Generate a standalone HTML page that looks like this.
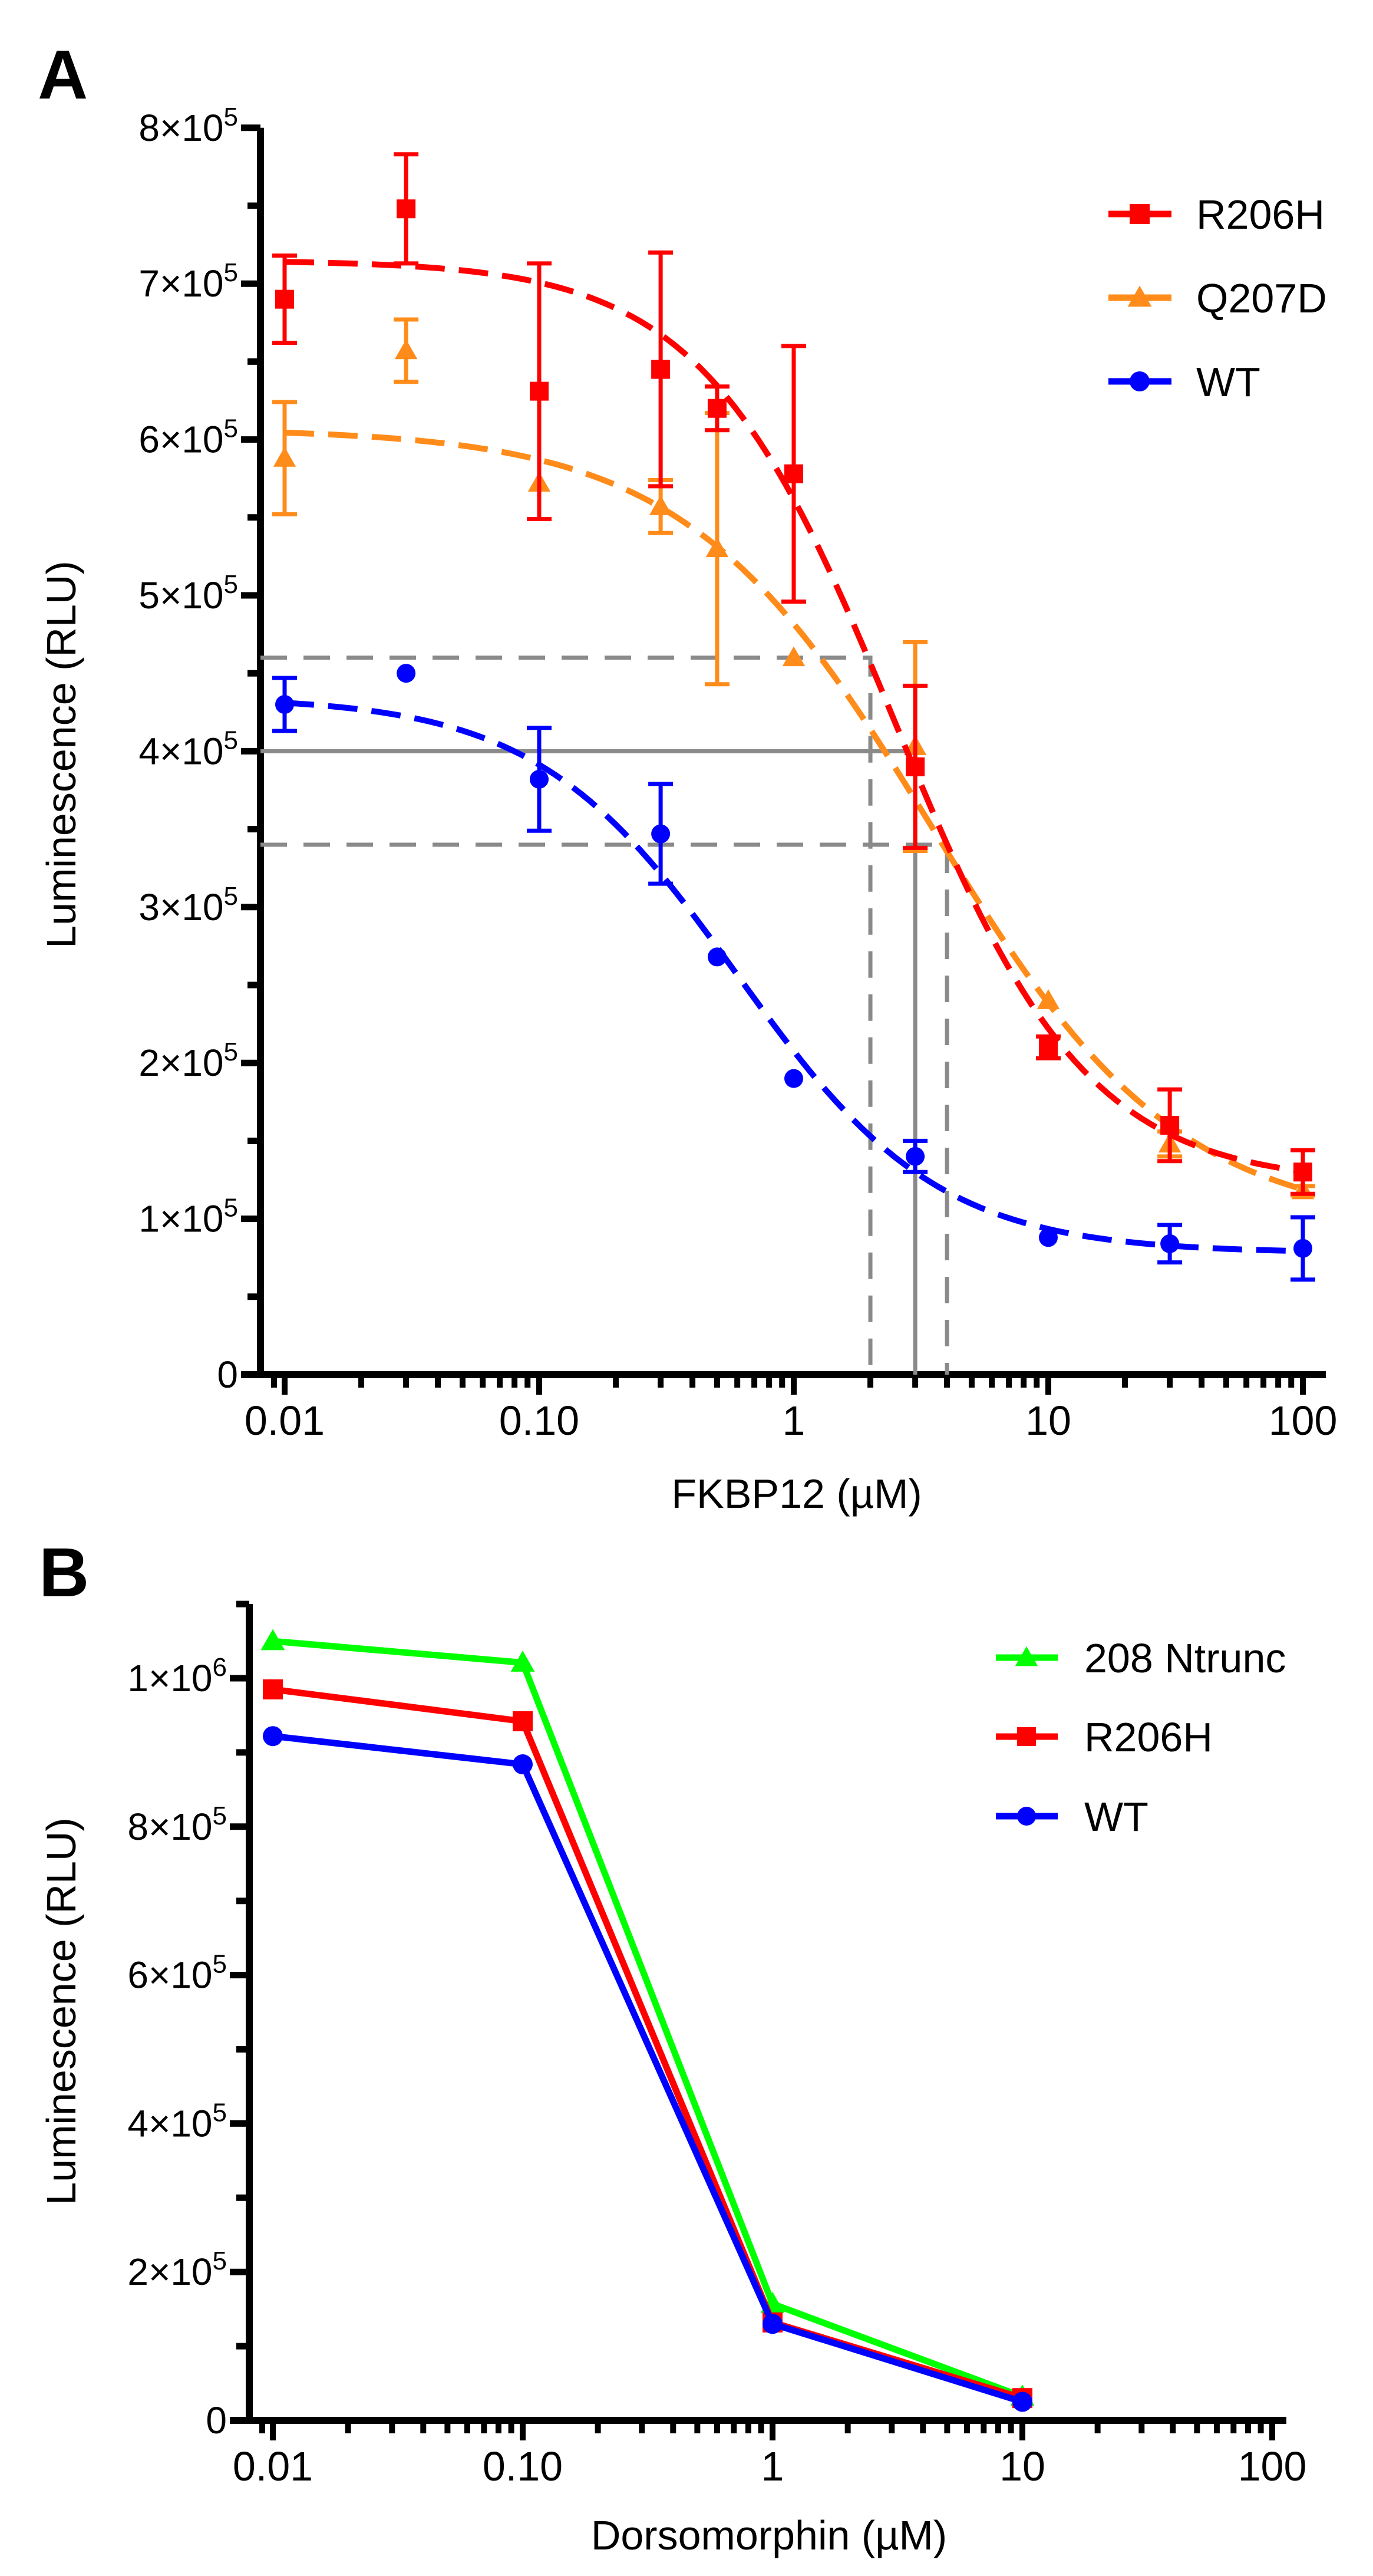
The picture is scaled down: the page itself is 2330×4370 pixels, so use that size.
<!DOCTYPE html>
<html><head><meta charset="utf-8"><style>
html,body{margin:0;padding:0;background:#fff;}
svg{display:block;font-family:"Liberation Sans",Arial,sans-serif;}
</style></head><body>
<svg id="fig" width="2330" height="4370" viewBox="0 0 2330 4370" xmlns="http://www.w3.org/2000/svg">
<text x="64" y="167" font-size="118" font-weight="bold">A</text>
<text x="66" y="2708" font-size="118" font-weight="bold">B</text>
<g id="pa"></g>
<g id="pb"></g>
</svg>
<script>
// ---------- Panel A data ----------
const aX = [0.01,0.03,0.1,0.3,0.5,1,3,10,30,100];
const aR206H = [6.9,7.48,6.31,6.45,6.2,5.78,3.9,2.1,1.6,1.3];
const aR206HErr = [0.28,0.35,0.82,0.75,0.14,0.82,0.52,0.07,0.23,0.14];
const aQ207D = [5.88,6.57,5.72,5.57,5.3,4.6,4.03,2.4,1.48,1.18];
const aQ207DErr = [0.36,0.2,0,0.17,0.87,0,0.67,0,0.08,0.03];
const aWT = [4.3,4.5,3.82,3.47,2.68,1.9,1.4,0.88,0.84,0.81];
const aWTErr = [0.17,0,0.33,0.32,0,0,0.1,0,0.12,0.2];
// 4PL fit params: top, bottom, ec50, hill
const fitR206H = [7.15,1.22,2.5,1.15];
const fitQ207D = [6.07,0.95,3.5,0.9];
const fitWT = [4.35,0.78,0.6,1.1];
const aYTicks = [0,1,2,3,4,5,6,7,8];
const aXTicks = [0.01,0.1,1,10,100];
const aXTickLabels = ["0.01","0.10","1","10","100"];
const guideSolidY = 4, guideSolidX = 3;
const guideDashHi = [2,4.6], guideDashLo = [4,3.4];

// ---------- Panel B data ----------
const bX = [0.01,0.1,1,10];
const bNtrunc = [10.5,10.21,1.57,0.32];
const bR206H = [9.85,9.42,1.32,0.3];
const bWT = [9.22,8.84,1.3,0.25];
const bYTicks = [0,2,4,6,8,10];
const bXTicks = [0.01,0.1,1,10,100];
const bXTickLabels = ["0.01","0.10","1","10","100"];

const NS="http://www.w3.org/2000/svg";
function mk(parent,tag,attrs){const e=document.createElementNS(NS,tag);for(const k in attrs)e.setAttribute(k,attrs[k]);parent.appendChild(e);return e;}

const A = {x0:483, dec:432, y0:2332, unit:264.4};
const ax = v => A.x0 + Math.log10(v/0.01)*A.dec;
const ay = v => A.y0 - v*A.unit;
const B = {x0:463, dec:424, y0:4106, unit:125.9};
const bx = v => B.x0 + Math.log10(v/0.01)*B.dec;
const by = v => B.y0 - v*B.unit;

function marker(g,shape,x,y,color,s){
  let e;
  if(shape==='sq'){e=mk(g,'rect',{x:x-s/2,y:y-s/2,width:s,height:s,fill:color});}
  else if(shape==='tri'){e=mk(g,'polygon',{points:`${x},${y-s*0.6} ${x-s*0.6},${y+s*0.45} ${x+s*0.6},${y+s*0.45}`,fill:color});}
  else {e=mk(g,'circle',{cx:x,cy:y,r:s/2,fill:color});}
  return e;
}

function axes(g,xf,yf,cfg){
  const ya=mk(g,'line',{x1:cfg.axX,y1:yf(cfg.yMax),x2:cfg.axX,y2:cfg.axY+6,stroke:'#000','stroke-width':12});
  
  
  const xa=mk(g,'line',{x1:cfg.axX-33,y1:cfg.axY,x2:cfg.xEnd,y2:cfg.axY,stroke:'#000','stroke-width':12});
  
  
  for(let v=0; v<=cfg.yMax+1e-9; v+=cfg.minorStep){
    const major = cfg.yTicks.some(t=>Math.abs(t-v)<1e-6);
    mk(g,'line',{x1:cfg.axX-(major?33:22),y1:yf(v),x2:cfg.axX,y2:yf(v),stroke:'#000','stroke-width':11});
  }
  cfg.yTicks.forEach(t=>{
    const tx=mk(g,'text',{x:cfg.axX-38,y:yf(t)+22,'font-size':64,'text-anchor':'end'});
    
    
    if(t===0){tx.textContent='0';}
    else{
      const exp = t>=10?6:5; const m = t>=10?t/10:t;
      const s1=mk(tx,'tspan',{}); s1.textContent=m+'×10';
      const s2=mk(tx,'tspan',{dy:-26,'font-size':44}); s2.textContent=String(exp);
    }
  });
  for(let d=-2; d<2; d++){
    for(let k=1;k<=10;k++){
      const v=k*Math.pow(10,d);
      const major=(k===1||k===10);
      const x=xf(v);
      mk(g,'line',{x1:x,y1:cfg.axY,x2:x,y2:cfg.axY+(major?34:22),stroke:'#000','stroke-width':10});
    }
  }
  mk(g,'line',{x1:xf(0.01)-18,y1:cfg.axY,x2:xf(0.01)-18,y2:cfg.axY+22,stroke:'#000','stroke-width':10});
  cfg.xTicks.forEach((t,i)=>{
    const tx=mk(g,'text',{x:xf(t),y:cfg.axY+102,'font-size':70,'text-anchor':'middle'});
    
    
    tx.textContent=cfg.xTickLabels[i];
  });
}

const pa=document.getElementById('pa');
axes(pa,ax,ay,{axX:442,axY:2332,yMax:8,minorStep:0.5,yTicks:aYTicks,xEnd:2250,xTicks:aXTicks,xTickLabels:aXTickLabels});
const gray='#8a8a8a';
let gl;
gl=mk(pa,'polyline',{points:`442,${ay(guideSolidY)} ${ax(guideSolidX)},${ay(guideSolidY)} ${ax(guideSolidX)},${A.y0}`,fill:'none',stroke:gray,'stroke-width':7});


gl=mk(pa,'polyline',{points:`442,${ay(guideDashHi[1])} ${ax(guideDashHi[0])},${ay(guideDashHi[1])} ${ax(guideDashHi[0])},${A.y0}`,fill:'none',stroke:gray,'stroke-width':7,'stroke-dasharray':'45 28'});


gl=mk(pa,'polyline',{points:`442,${ay(guideDashLo[1])} ${ax(guideDashLo[0])},${ay(guideDashLo[1])} ${ax(guideDashLo[0])},${A.y0}`,fill:'none',stroke:gray,'stroke-width':7,'stroke-dasharray':'45 28'});



function fit4(p,x){return p[1]+(p[0]-p[1])/(1+Math.pow(x/p[2],p[3]));}
const seriesA=[
 {name:'wt',ys:aWT,err:aWTErr,fit:fitWT,color:'#0000ff',shape:'circ'},
 {name:'q207d',ys:aQ207D,err:aQ207DErr,fit:fitQ207D,color:'#ff8c1a',shape:'tri'},
 {name:'r206h',ys:aR206H,err:aR206HErr,fit:fitR206H,color:'#ff0000',shape:'sq'}
];
seriesA.forEach(s=>{
  const g=mk(pa,'g',{});
  
  
  let pts=[];
  for(let i=0;i<=120;i++){const lx=-2+4*i/120;const x=Math.pow(10,lx);pts.push(ax(x).toFixed(1)+','+ay(fit4(s.fit,x)).toFixed(1));}
  const c=mk(g,'polyline',{points:pts.join(' '),fill:'none',stroke:s.color,'stroke-width':10,'stroke-dasharray':'50 24'});
  
  
  aX.forEach((x,i)=>{
    const X=ax(x),Y=ay(s.ys[i]);
    if(s.err[i]>0){
      const e1=ay(s.ys[i]+s.err[i]),e2=ay(s.ys[i]-s.err[i]);
      const eb=mk(g,'path',{d:`M${X},${e1}V${e2}M${X-21},${e1}H${X+21}M${X-21},${e2}H${X+21}`,stroke:s.color,'stroke-width':7,fill:'none'});
      
      
    }
    const m=marker(g,s.shape,X,Y,s.color,32);
    
    
  });
});
[['R206H','#ff0000','sq',363],['Q207D','#ff8c1a','tri',505],['WT','#0000ff','circ',647]].forEach(l=>{
  const g=mk(pa,'g',{});
  
  
  mk(g,'line',{x1:1881,y1:l[3],x2:1988,y2:l[3],stroke:l[1],'stroke-width':11});
  marker(g,l[2],1934,l[3],l[1],34);
  const t=mk(g,'text',{x:2030,y:l[3]+25,'font-size':70});t.textContent=l[0];
});
let t;
t=mk(pa,'text',{x:1352,y:2558,'font-size':70,'text-anchor':'middle'});t.textContent='FKBP12 (µM)';


t=mk(pa,'text',{x:0,y:0,'font-size':70,'text-anchor':'middle',transform:'translate(128,1280) rotate(-90)'});t.textContent='Luminescence (RLU)';



const pb=document.getElementById('pb');
axes(pb,bx,by,{axX:423,axY:4106,yMax:11,minorStep:1,yTicks:bYTicks,xEnd:2183,xTicks:bXTicks,xTickLabels:bXTickLabels});
const seriesB=[
 {name:'ntrunc',ys:bNtrunc,color:'#00ff00',shape:'tri'},
 {name:'r206h',ys:bR206H,color:'#ff0000',shape:'sq'},
 {name:'wt',ys:bWT,color:'#0000ff',shape:'circ'}
];
seriesB.forEach(s=>{
  const g=mk(pb,'g',{});
  
  
  const ln=mk(g,'polyline',{points:bX.map((x,i)=>bx(x)+','+by(s.ys[i])).join(' '),fill:'none',stroke:s.color,'stroke-width':11,'stroke-linejoin':'round'});
  
  
  bX.forEach((x,i)=>{
    const m=marker(g,s.shape,bx(x),by(s.ys[i]),s.color,34);
    
    
  });
});
[['208 Ntrunc','#00ff00','tri',2812],['R206H','#ff0000','sq',2946],['WT','#0000ff','circ',3081]].forEach(l=>{
  const g=mk(pb,'g',{});
  
  
  mk(g,'line',{x1:1690,y1:l[3],x2:1795,y2:l[3],stroke:l[1],'stroke-width':11});
  marker(g,l[2],1742,l[3],l[1],32);
  const tt=mk(g,'text',{x:1840,y:l[3]+25,'font-size':70});tt.textContent=l[0];
});
t=mk(pb,'text',{x:1305,y:4325,'font-size':70,'text-anchor':'middle'});t.textContent='Dorsomorphin (µM)';


t=mk(pb,'text',{x:0,y:0,'font-size':70,'text-anchor':'middle',transform:'translate(128,3412) rotate(-90)'});t.textContent='Luminescence (RLU)';


</script>
</body></html>
